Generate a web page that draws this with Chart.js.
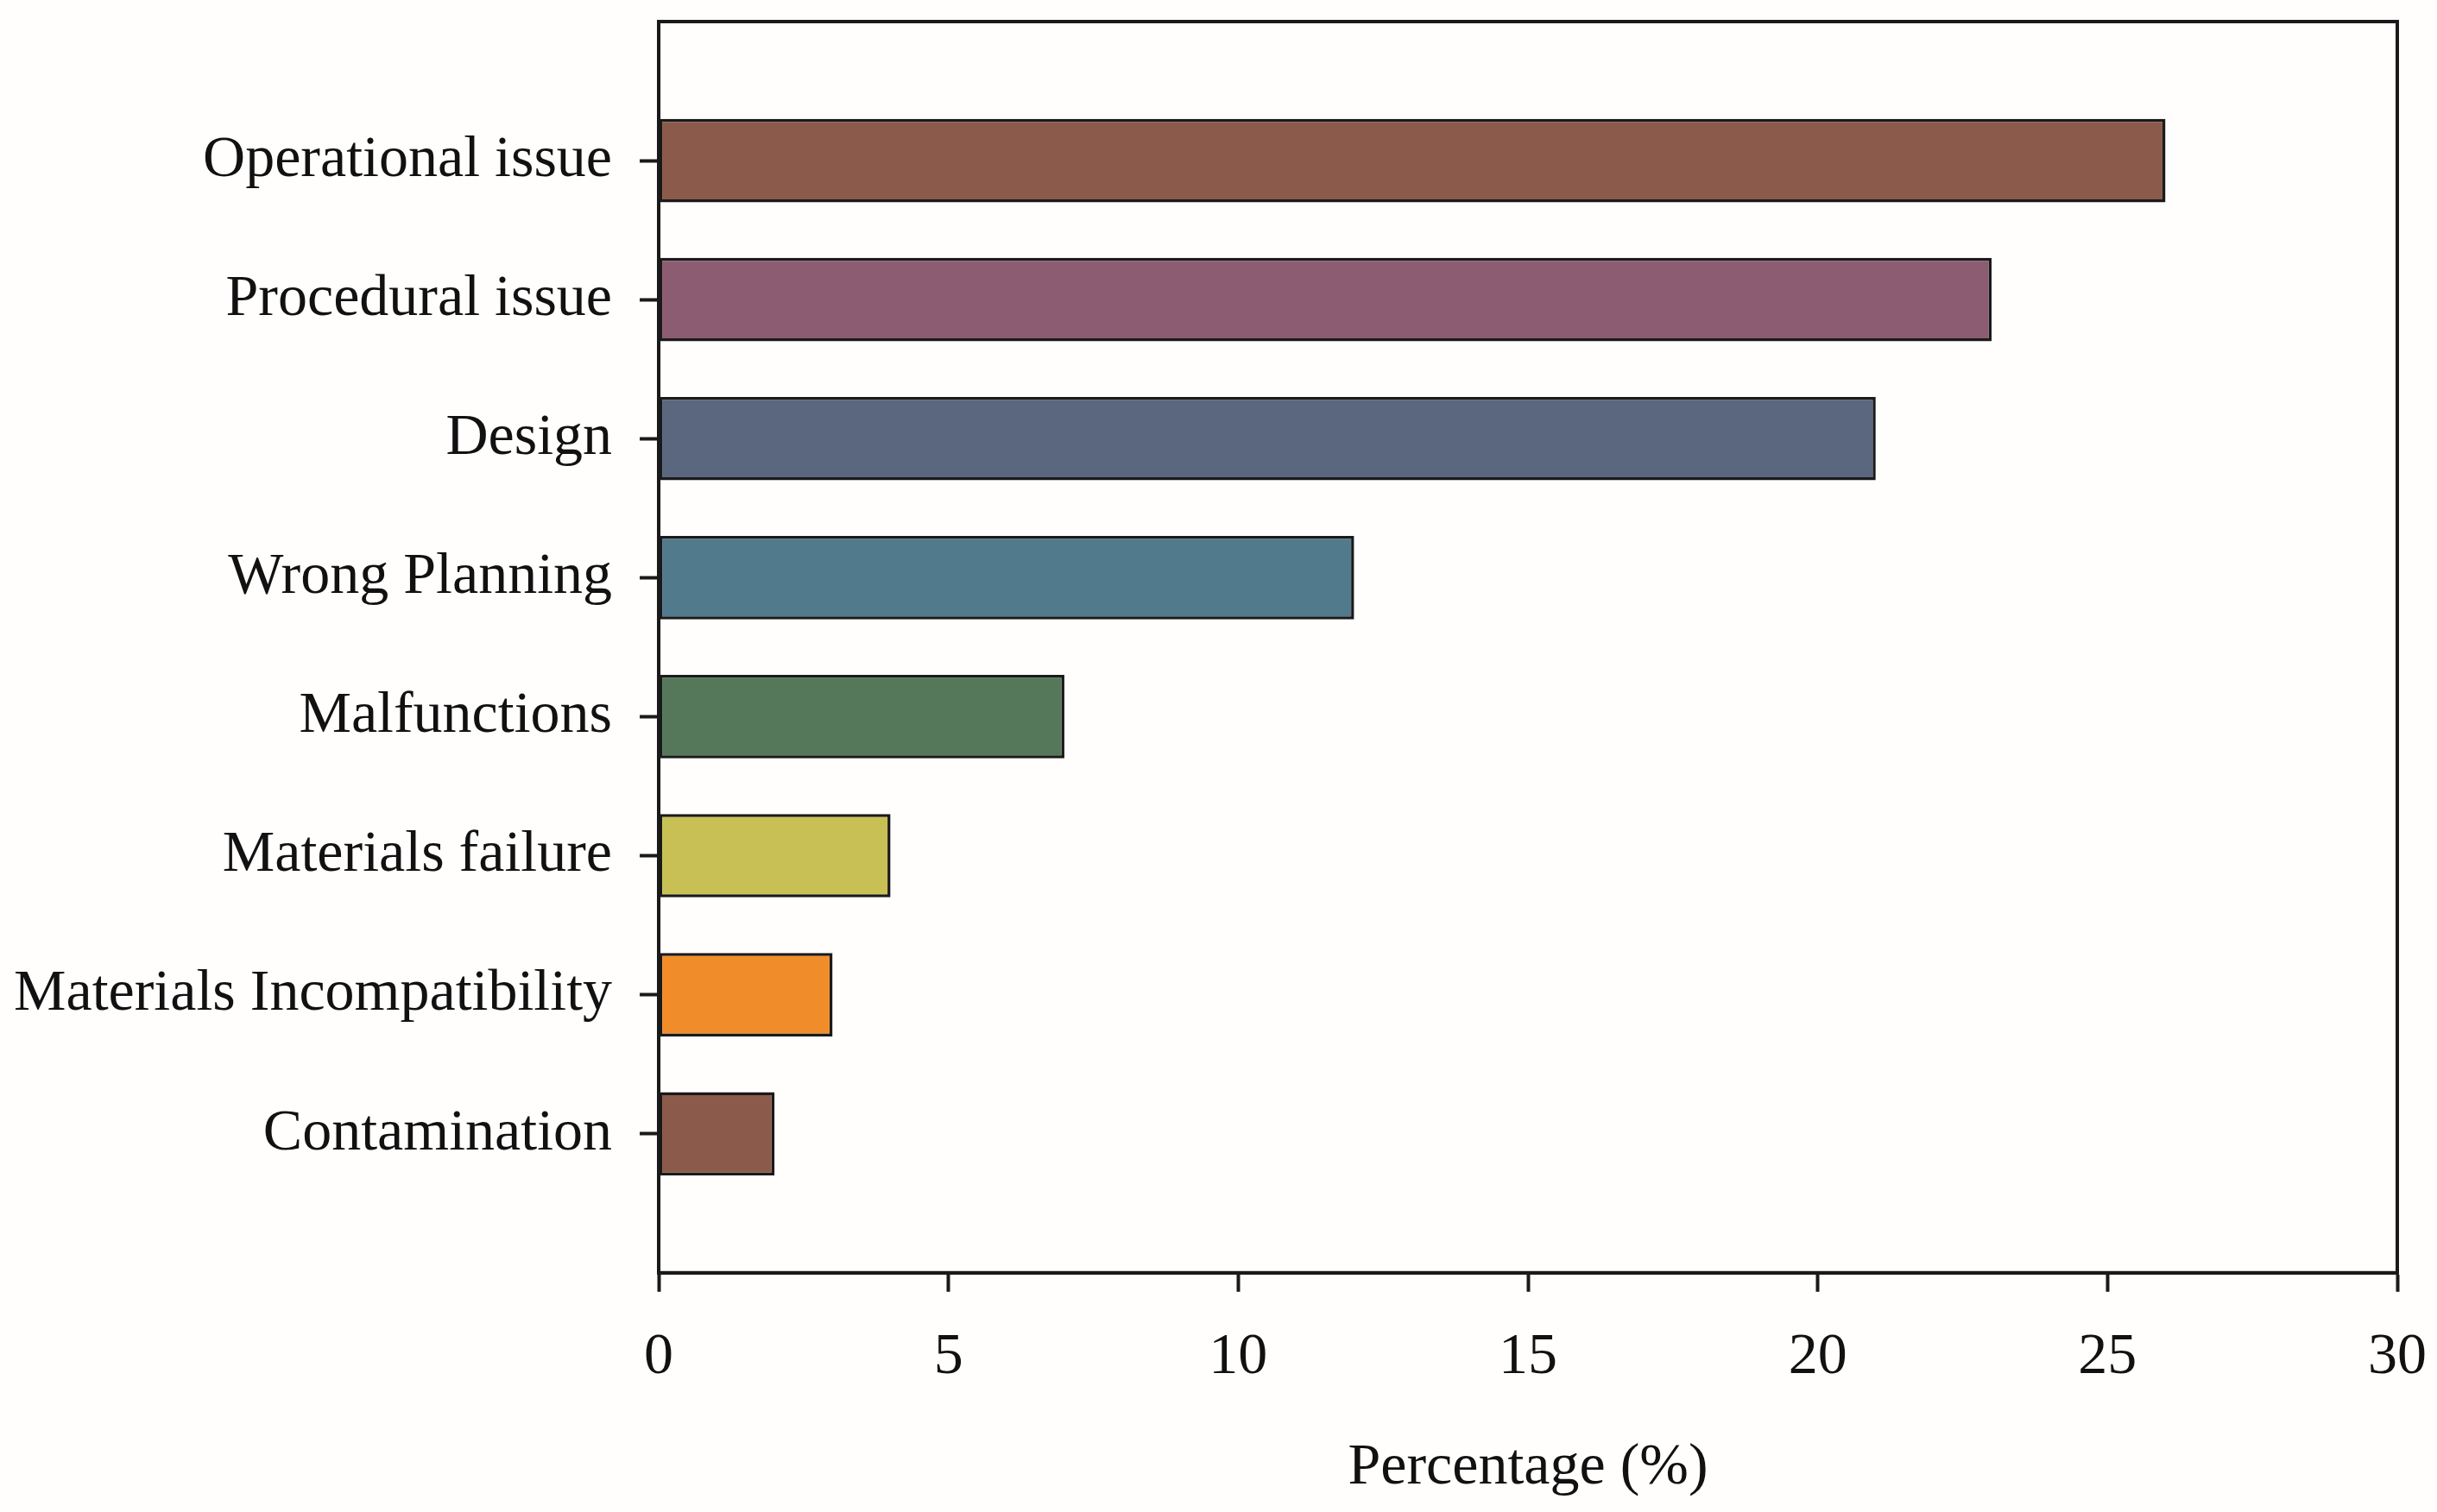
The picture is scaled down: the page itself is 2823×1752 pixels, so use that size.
<!DOCTYPE html>
<html>
<head>
<meta charset="utf-8">
<style>
  html, body { margin: 0; padding: 0; background: #fffefd; }
  #wrap { width: 2823px; height: 1752px; }
</style>
<script src="https://cdn.jsdelivr.net/npm/chart.js@4.4.1/dist/chart.umd.min.js"></script>
</head>
<body>
<div id="wrap"><canvas id="chart" width="2823" height="1752"></canvas></div>
<script>
// categories, top to bottom
const categories = [
    'Operational issue',
    'Procedural issue',
    'Design',
    'Wrong Planning',
    'Malfunctions',
    'Materials failure',
    'Materials Incompatibility',
    'Contamination'
];
const percentages = [26, 23, 21, 12, 7, 4, 3, 2];
const barColors = ['#8b5a4a', '#8c5c72', '#5a677e', '#527a8d', '#56785a', '#c9c055', '#f08d2a', '#8b5a4a'];
const xTicks = [0, 5, 10, 15, 20, 25, 30];

// blank slot above and below so the bars sit one step in from the frame
const labels = [''].concat(categories, ['']);
const values = [null].concat(percentages, [null]);
const colors = ['#000'].concat(barColors, ['#000']);

const font = { family: '"Liberation Serif", "Times New Roman", serif', size: 68 };

// full box round the plot area
const frame = {
    id: 'frame',
    afterDraw(chart) {
        const { ctx, chartArea: a } = chart;
        ctx.save();
        ctx.strokeStyle = '#1a1a1a';
        ctx.lineWidth = 4;
        ctx.strokeRect(a.left, a.top, a.right - a.left, a.bottom - a.top);
        ctx.restore();
    }
};

new Chart(document.getElementById('chart'), {
    type: 'bar',
    data: {
        labels: labels,
        datasets: [{
            data: values,
            backgroundColor: colors,
            borderColor: '#1a1a1a',
            borderWidth: 3.5,
            borderSkipped: false,
            categoryPercentage: 1,
            barPercentage: 0.6
        }]
    },
    options: {
        indexAxis: 'y',
        responsive: false,
        animation: false,
        layout: { padding: { top: 25, right: 46, bottom: 10, left: -16 } },
        plugins: {
            legend: { display: false },
            tooltip: { enabled: false }
        },
        scales: {
            x: {
                min: 0,
                max: 30,
                afterBuildTicks: (axis) => { axis.ticks = xTicks.map(v => ({ value: v })); },
                afterFit: (axis) => { axis.paddingRight = 0; },
                grid: {
                    drawOnChartArea: false,
                    tickLength: 22,
                    tickWidth: 4,
                    tickColor: '#1a1a1a'
                },
                border: { color: '#1a1a1a', width: 4 },
                ticks: { color: '#111', font: font, padding: 36, maxRotation: 0 },
                title: {
                    display: true,
                    text: 'Percentage (%)',
                    color: '#111',
                    font: font,
                    padding: { top: 10, bottom: 0 }
                }
            },
            y: {
                offset: false,
                afterFit: (axis) => { axis.paddingTop = 0; axis.paddingBottom = 0; },
                grid: {
                    offset: false,
                    drawOnChartArea: false,
                    tickLength: 22,
                    tickWidth: 4,
                    tickColor: (c) => (c.index === 0 || c.index === labels.length - 1) ? 'rgba(0,0,0,0)' : '#1a1a1a'
                },
                border: { color: '#1a1a1a', width: 4 },
                ticks: { color: '#111', font: font, padding: 32, autoSkip: false }
            }
        }
    },
    plugins: [frame]
});
</script>
</body>
</html>
